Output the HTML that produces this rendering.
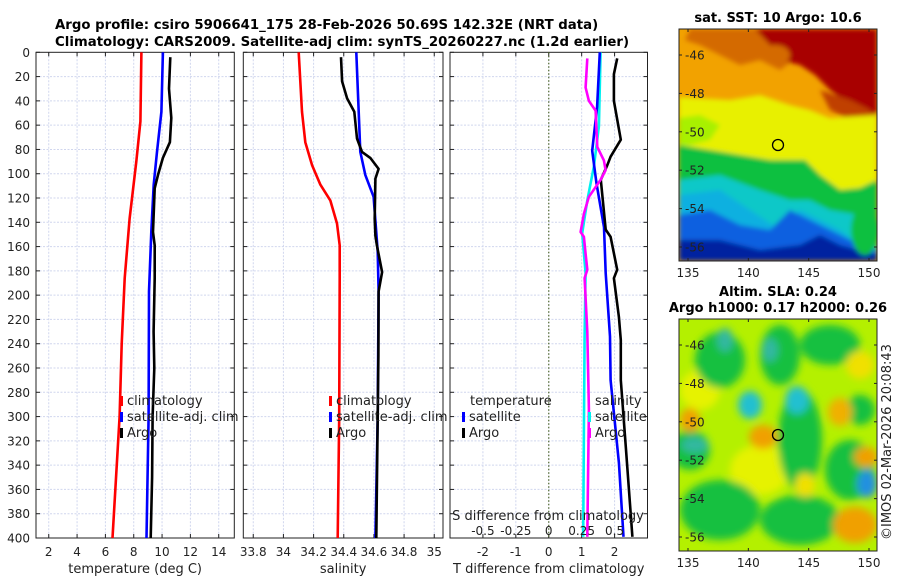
<!DOCTYPE html>
<html><head><meta charset="utf-8">
<style>
html,body{margin:0;padding:0;background:#fff;}
svg text{font-family:"DejaVu Sans","Liberation Sans",sans-serif;}
</style></head>
<body>
<svg id="fig" width="900" height="580" viewBox="0 0 900 580" xmlns="http://www.w3.org/2000/svg">
<defs>
<filter id="bl" x="-20%" y="-20%" width="140%" height="140%"><feGaussianBlur stdDeviation="2.5"/></filter>
<filter id="bl2" x="-50%" y="-50%" width="200%" height="200%"><feGaussianBlur stdDeviation="4"/></filter>
<clipPath id="clipTop"><rect x="679" y="29" width="198" height="232"/></clipPath>
<clipPath id="clipBot"><rect x="679" y="319" width="198" height="232"/></clipPath>
</defs>
<text x="55" y="29" font-size="13.3" font-weight="bold">Argo profile: csiro 5906641_175 28-Feb-2026 50.69S 142.32E (NRT data)</text>
<text x="55" y="46" font-size="13.3" font-weight="bold">Climatology: CARS2009. Satellite-adj clim: synTS_20260227.nc (1.2d earlier)</text>

<!-- top map -->
<g clip-path="url(#clipTop)">
<rect x="679" y="29" width="198" height="232" fill="#f2a200"/>
<g filter="url(#bl)">
<polygon fill="#d46a00" points="690,29 790,29 800,55 780,70 760,60 740,65 720,55 700,45 685,40"/>
<polygon fill="#a80000" points="755,29 877,29 877,115 850,105 830,90 815,75 800,65 780,60 770,45"/>
<polygon fill="#c04000" points="820,90 850,100 870,110 877,118 850,120 830,110"/>
<polygon fill="#e8f000" points="679,97 730,100 760,95 790,105 810,110 830,118 877,115 877,180 860,188 840,190 820,175 805,160 770,160 740,155 710,150 679,145"/>
<polygon fill="#a8f000" points="679,118 700,115 720,125 710,140 690,145 679,145"/>
<polygon fill="#10c040" points="679,145 710,150 740,155 770,160 805,160 820,175 840,190 860,188 877,180 877,261 679,261"/>
<polygon fill="#10c8c8" points="679,180 720,175 760,190 790,200 810,200 830,210 860,215 877,220 877,261 679,261"/>
<polygon fill="#0ab0e0" points="679,195 720,190 750,210 780,230 800,210 840,230 860,245 877,261 679,261"/>
<polygon fill="#1060e0" points="679,215 710,210 740,225 770,230 790,210 820,225 850,240 877,250 877,261 679,261"/>
<polygon fill="#0020a0" points="679,240 720,240 760,250 800,245 820,235 840,245 877,255 877,261 679,261"/>
<ellipse fill="#10c040" cx="865" cy="230" rx="14" ry="25"/>
<ellipse fill="#d46a00" cx="775" cy="55" rx="15" ry="10"/>
</g>
</g>
<rect x="679" y="29" width="198" height="232" fill="none" stroke="#222" stroke-width="1"/>
<circle cx="778" cy="145" r="5.5" fill="none" stroke="#000" stroke-width="1.3"/>
<text x="778" y="22" font-size="13" font-weight="bold" text-anchor="middle">sat. SST: 10 Argo: 10.6</text>

<!-- bottom map -->
<g clip-path="url(#clipBot)">
<rect x="679" y="319" width="198" height="232" fill="#b4f000"/>
<g filter="url(#bl2)">
<ellipse fill="#e6f200" cx="760" cy="470" rx="30" ry="25"/>
<ellipse fill="#e6f200" cx="700" cy="390" rx="20" ry="20"/>
<ellipse fill="#18c040" cx="720" cy="360" rx="25" ry="28"/>
<ellipse fill="#18c040" cx="780" cy="355" rx="20" ry="30"/>
<ellipse fill="#18c040" cx="830" cy="345" rx="30" ry="20"/>
<ellipse fill="#18c040" cx="800" cy="440" rx="22" ry="50"/>
<ellipse fill="#18c040" cx="720" cy="510" rx="40" ry="30"/>
<ellipse fill="#18c040" cx="800" cy="520" rx="40" ry="25"/>
<ellipse fill="#18c040" cx="850" cy="470" rx="25" ry="30"/>
<ellipse fill="#18c040" cx="690" cy="450" rx="20" ry="20"/>
<ellipse fill="#18c040" cx="860" cy="410" rx="15" ry="15"/>
<ellipse fill="#30b8a0" cx="770" cy="350" rx="8" ry="12"/>
<ellipse fill="#30b8a0" cx="725" cy="340" rx="8" ry="12"/>
<ellipse fill="#20c0d0" cx="750" cy="405" rx="12" ry="14"/>
<ellipse fill="#20c0d0" cx="797" cy="400" rx="12" ry="14"/>
<ellipse fill="#30b8a0" cx="695" cy="445" rx="14" ry="8"/>
<ellipse fill="#2090e0" cx="867" cy="484" rx="10" ry="14"/>
<ellipse fill="#f0a000" cx="763" cy="437" rx="14" ry="12"/>
<ellipse fill="#f0a000" cx="690" cy="420" rx="10" ry="12"/>
<ellipse fill="#f0b000" cx="840" cy="412" rx="12" ry="14"/>
<ellipse fill="#f0a000" cx="866" cy="457" rx="12" ry="10"/>
<ellipse fill="#f0a000" cx="855" cy="525" rx="22" ry="18"/>
<ellipse fill="#f0e000" cx="805" cy="485" rx="10" ry="12"/>
<ellipse fill="#f0e000" cx="860" cy="365" rx="14" ry="14"/>
</g>
</g>
<rect x="679" y="319" width="198" height="232" fill="none" stroke="#222" stroke-width="1"/>
<circle cx="778" cy="435" r="5.5" fill="none" stroke="#000" stroke-width="1.3"/>
<text x="778" y="296" font-size="13" font-weight="bold" text-anchor="middle">Altim. SLA: 0.24</text>
<text x="778" y="312" font-size="13" font-weight="bold" text-anchor="middle">Argo h1000: 0.17 h2000: 0.26</text>
<text transform="translate(891,540) rotate(-90)" font-size="13" fill="#222">©IMOS 02-Mar-2026 20:08:43</text>
<g id="plots"></g>
</svg>
<script>
// ---- data ----
const depthTicks = [0,20,40,60,80,100,120,140,160,180,200,220,240,260,280,300,320,340,360,380,400];
const tempTicks = [2,4,6,8,10,12,14];
const salTicks = [33.8,34,34.2,34.4,34.6,34.8,35];
const tdiffTicks = [-2,-1,0,1,2];
const sdiffTicks = [-0.5,-0.25,0,0.25,0.5];
const lonTicks = [135,140,145,150];
const latTicks = [-46,-48,-50,-52,-54,-56];

const tClimDepth = [0,57,90,137,186,240,300,400];
const tClimVal   = [8.54,8.47,8.18,7.71,7.36,7.15,7.0,6.5];
const tSatDepth  = [0,49,82,109,148,197,300,400];
const tSatVal    = [10.06,9.95,9.64,9.41,9.24,9.08,9.05,8.9];
const tArgoDepth = [4,30,54,74,87,101,112,148,159,186,230,260,300,350,400];
const tArgoVal   = [10.58,10.49,10.65,10.55,10.06,9.71,9.48,9.36,9.48,9.48,9.4,9.45,9.33,9.3,9.2];

const sClimDepth = [0,49,74,93,109,122,141,159,186,300,400];
const sClimVal   = [34.101,34.123,34.145,34.19,34.245,34.311,34.355,34.373,34.373,34.37,34.36];
const sSatDepth  = [0,49,82,101,119,164,197,300,400];
const sSatVal    = [34.483,34.499,34.51,34.543,34.598,34.625,34.631,34.625,34.61];
const sArgoDepth = [4,24,38,49,71,82,87,96,104,137,151,159,181,197,250,300,400];
const sArgoVal   = [34.382,34.389,34.422,34.47,34.488,34.521,34.576,34.631,34.61,34.605,34.61,34.62,34.654,34.631,34.63,34.625,34.616];

const dtSatDepth = [0,45,81,108,144,182,234,270,338,399];
const dtSatVal   = [1.55,1.47,1.32,1.45,1.68,1.73,1.86,1.88,2.13,2.27];
const dtArgoDepth= [5,18,40,72,86,93,105,146,152,179,186,218,237,270,325,399];
const dtArgoVal  = [2.08,1.98,1.98,2.19,1.88,1.78,1.58,1.73,1.88,2.08,1.98,2.13,2.19,2.19,2.34,2.54];
const dsSatDepth = [0,61,94,122,149,182,234,300,399];
const dsSatVal   = [0.394,0.381,0.343,0.293,0.254,0.28,0.272,0.268,0.262];
const dsArgoDepth= [5,29,40,48,78,89,97,105,119,133,148,152,166,179,186,230,294,399];
const dsArgoVal  = [0.293,0.28,0.305,0.356,0.369,0.419,0.432,0.394,0.305,0.267,0.242,0.267,0.28,0.293,0.272,0.293,0.305,0.293];

// ---- axis helpers ----
const NS='http://www.w3.org/2000/svg';
const root=document.getElementById('plots');
const Y0=52.3, Y1=538;
const yD = d => Y0 + (d/400)*(Y1-Y0);
function lin(d0,d1,r0,r1){return v=>r0+(v-d0)/(d1-d0)*(r1-r0);}
function mk(tag,attrs,parent){const e=document.createElementNS(NS,tag);for(const k in attrs)e.setAttribute(k,attrs[k]);(parent||root).appendChild(e);return e;}
function txt(x,y,s,size,anchor,parent){const t=mk('text',{x:x,y:y,'font-size':size,'text-anchor':anchor||'middle',fill:'#222'},parent);t.textContent=s;return t;}

const panels=[
 {name:'temperature-panel',x0:36,x1:234.3,sx:lin(1.1,15.1,36,234.3),ticks:tempTicks,title:'temperature (deg C)',yl:true},
 {name:'salinity-panel',x0:243.3,x1:443,sx:lin(33.734,35.058,243.3,443),ticks:salTicks,title:'salinity'},
 {name:'difference-panel',x0:450,x1:647.5,sx:lin(-3,3,450,647.5),ticks:tdiffTicks,title:'T difference from climatology'}
];
panels.forEach(p=>{
  const g=mk('g',{});
  
  
  depthTicks.forEach(d=>{ if(d>0&&d<400){mk('line',{x1:p.x0,x2:p.x1,y1:yD(d),y2:yD(d),stroke:'#d0d6ee','stroke-width':1,'stroke-dasharray':'2,1.5'},g);} });
  p.ticks.forEach(t=>{
    const x=p.sx(t);
    mk('line',{x1:x,x2:x,y1:Y0,y2:Y1,stroke:'#d0d6ee','stroke-width':1,'stroke-dasharray':'2,1.5'},g);
    mk('line',{x1:x,x2:x,y1:Y1,y2:Y1-4,stroke:'#222'},g);
    mk('line',{x1:x,x2:x,y1:Y0,y2:Y0+4,stroke:'#222'},g);
    const lab=txt(x,556,String(t),12,'middle',g);
    
    
  });
  depthTicks.forEach(d=>{
    mk('line',{x1:p.x0,x2:p.x0+4,y1:yD(d),y2:yD(d),stroke:'#222'},g);
    mk('line',{x1:p.x1,x2:p.x1-4,y1:yD(d),y2:yD(d),stroke:'#222'},g);
    if(p.yl){const lab=txt(30,yD(d)+4.5,String(d),12,'end',g);
      
      }
  });
  const tt=txt((p.x0+p.x1)/2,573,p.title,13,'middle',g);
  
  
  mk('rect',{x:p.x0,y:Y0,width:p.x1-p.x0,height:Y1-Y0,fill:'none',stroke:'#222','stroke-width':1},g);
});

function series(name,depths,vals,sx,color){
  const pts=depths.map((d,i)=>sx(vals[i]).toFixed(1)+','+yD(d).toFixed(1)).join(' ');
  const pl=mk('polyline',{points:pts,fill:'none',stroke:color,'stroke-width':2.6,'stroke-linejoin':'round'});
  
  
}
const p3=panels[2];
const sxS=lin(-0.75,0.75,450,647.5);
const zl=mk('line',{x1:p3.sx(0),x2:p3.sx(0),y1:Y0,y2:Y1,stroke:'#556b2f','stroke-width':1.2,'stroke-dasharray':'1.5,2'});



series('temp-climatology-line',tClimDepth,tClimVal,panels[0].sx,'#f00');
series('temp-satellite-adj-line',tSatDepth,tSatVal,panels[0].sx,'#00f');
series('temp-argo-line',tArgoDepth,tArgoVal,panels[0].sx,'#000');
series('sal-climatology-line',sClimDepth,sClimVal,panels[1].sx,'#f00');
series('sal-satellite-adj-line',sSatDepth,sSatVal,panels[1].sx,'#00f');
series('sal-argo-line',sArgoDepth,sArgoVal,panels[1].sx,'#000');
series('sdiff-satellite-line',dsSatDepth,dsSatVal,sxS,'#00f0f0');
series('tdiff-satellite-line',dtSatDepth,dtSatVal,p3.sx,'#00f');
series('tdiff-argo-line',dtArgoDepth,dtArgoVal,p3.sx,'#000');
series('sdiff-argo-line',dsArgoDepth,dsArgoVal,sxS,'#f0f');

const st=txt(548,520,'S difference from climatology',13,'middle');


sdiffTicks.forEach(t=>{
  const l=txt(sxS(t),535,String(t),12,'middle');
  
  
});

function legend(x,y,color,label){
  const g=mk('g',{});
  
  
  if(color) mk('rect',{x:x,y:y-9,width:3,height:10,fill:color},g);
  txt(x+7,y,label,13,'start',g);
}
legend(120,405,'#f00','climatology');
legend(120,421,'#00f','satellite-adj. clim');
legend(120,437,'#000','Argo');
legend(329,405,'#f00','climatology');
legend(329,421,'#00f','satellite-adj. clim');
legend(329,437,'#000','Argo');
legend(463,405,null,'temperature');
legend(462,421,'#00f','satellite');
legend(462,437,'#000','Argo');
legend(588,405,null,'salinity');
legend(588,421,'#00f0f0','satellite');
legend(588,437,'#f0f','Argo');

const lonX=lin(135,150,688,869);
[[29,261],[319,551]].forEach((r,mi)=>{
  const latY=lin(-46,-56,r[0]+26,r[0]+218);
  lonTicks.forEach(t=>{
    mk('line',{x1:lonX(t),x2:lonX(t),y1:r[1],y2:r[1]-3,stroke:'#222'});
    mk('line',{x1:lonX(t),x2:lonX(t),y1:r[0],y2:r[0]+3,stroke:'#222'});
    const l=txt(lonX(t),r[1]+16,String(t),12,'middle');
    
    
  });
  latTicks.forEach(t=>{
    mk('line',{x1:679,x2:682,y1:latY(t),y2:latY(t),stroke:'#222'});
    mk('line',{x1:877,x2:874,y1:latY(t),y2:latY(t),stroke:'#222'});
    const l=txt(685,latY(t)+4.5,String(t),12,'start');
    
    
  });
});
</script>
</body></html>
